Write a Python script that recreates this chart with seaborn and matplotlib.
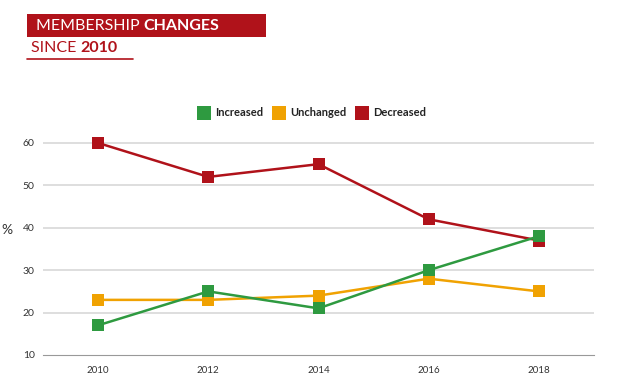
import matplotlib
matplotlib.use("Agg")
import matplotlib.pyplot as plt
import seaborn as sns
import pandas as pd
from matplotlib.patches import Rectangle
from matplotlib.lines import Line2D

years = ["2010", "2012", "2014", "2016", "2018"]
increased = [17, 25, 21, 30, 38]
unchanged = [23, 23, 24, 28, 25]
decreased = [60, 52, 55, 42, 37]
series_names = ["Increased", "Unchanged", "Decreased"]
yticks = [10, 20, 30, 40, 50, 60]

colors = {"Increased": "#2e9a40", "Unchanged": "#f0a202", "Decreased": "#b0121a"}

df = pd.DataFrame({
    "year": years * 3,
    "value": increased + unchanged + decreased,
    "series": ["Increased"] * 5 + ["Unchanged"] * 5 + ["Decreased"] * 5,
})
df["x"] = list(range(5)) * 3

sns.set_style("white")
plt.rcParams["font.family"] = ["Lato", "DejaVu Sans"]

W, H = 622, 389
fig = plt.figure(figsize=(W / 100, H / 100), dpi=100)
ax = fig.add_axes([43 / W, 1 - 355 / H, (594 - 43) / W, (355 - 126) / H])

sns.lineplot(data=df, x="x", y="value", hue="series",
             hue_order=["Decreased", "Unchanged", "Increased"],
             palette=colors, marker="s", markersize=9, markeredgewidth=0,
             linewidth=1.8, ax=ax, legend=False, zorder=3)

ax.set_xlim(-0.5, 4.5)
ax.set_ylim(10, 64)
ax.set_yticks(yticks[1:])
ax.set_yticklabels([str(v) for v in yticks[1:]])
ax.set_xticks(range(5))
ax.set_xticklabels(years)
ax.set_xticks([i - 0.5 for i in range(6)], minor=True)
ax.tick_params(axis="x", which="major", length=0, labelsize=7, colors="#333333", pad=8)
ax.tick_params(axis="x", which="minor", length=5, color="#999999", width=0.8, direction="out")
ax.tick_params(axis="y", length=0, labelsize=7.5, colors="#333333", pad=6)
ax.text(-0.5 - 0.07, 10, "10", ha="right", va="center", fontsize=7.5, color="#333333",
        transform=ax.transData)
ax.set_xlabel("")
ax.set_ylabel("")
for v in yticks[1:]:
    ax.axhline(v, color="#d8d8d8", lw=1.2, zorder=1)
for s in ["top", "right", "left"]:
    ax.spines[s].set_visible(False)
ax.spines["bottom"].set_color("#999999")
ax.spines["bottom"].set_linewidth(0.8)

# y label at the very left
fig.text(1 / W, 1 - 230 / H, "%", fontsize=10, color="#333333", ha="left", va="center")

# legend
handles = [Line2D([0], [0], marker="s", color="none", markerfacecolor=colors[n],
                  markeredgewidth=0, markersize=10.5) for n in series_names]
leg = fig.legend(handles, series_names, loc="center", bbox_to_anchor=(312 / W, 1 - 113 / H),
                 ncol=3, frameon=False, fontsize=8, handlelength=1.0, handletextpad=0.5,
                 columnspacing=0.9)
for t in leg.get_texts():
    t.set_fontweight("bold")
    t.set_color("#222222")

# title block
red = "#b0121a"
fig.patches.append(Rectangle((27 / W, 1 - 37 / H), (266 - 27) / W, 23 / H,
                             transform=fig.transFigure, facecolor=red, edgecolor="none"))

renderer = fig.canvas.get_renderer()


def two_part(x_px, y_px, a, b, color, size):
    t1 = fig.text(x_px / W, 1 - y_px / H, a + " ", color=color, fontsize=size,
                  fontweight="normal", va="center", ha="left")
    bb = t1.get_window_extent(renderer=renderer)
    fig.text(bb.x1 / W, 1 - y_px / H, b, color=color, fontsize=size,
             fontweight="bold", va="center", ha="left")


two_part(36, 26, "MEMBERSHIP", "CHANGES", "white", 11.5)
two_part(31, 48, "SINCE", "2010", red, 11.5)
fig.lines.append(Line2D([27 / W, 133 / W], [1 - 59 / H, 1 - 59 / H], transform=fig.transFigure,
                        color=red, lw=1.2))

fig.savefig("out.png", dpi=100)
